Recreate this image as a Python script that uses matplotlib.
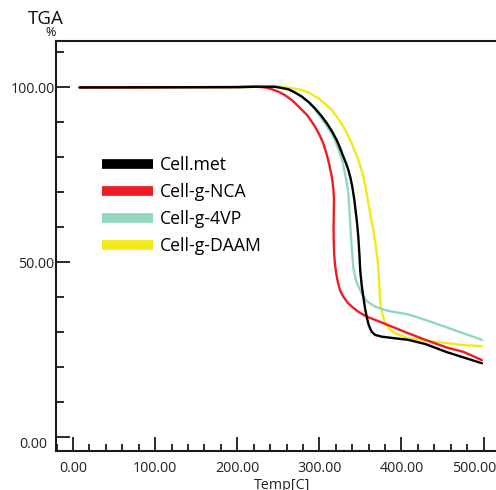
import matplotlib
matplotlib.use("Agg")
import matplotlib.pyplot as plt
from matplotlib.transforms import ScaledTranslation

plt.rcParams["font.family"] = ["Open Sans", "DejaVu Sans"]

# TGA curves (temperature in C, mass in %)
temp_met = [8, 200, 222, 246, 262, 270, 278.5, 287, 294.7, 302, 309, 315, 321, 325, 329.2, 332.5, 335.3,
            338, 340.1, 342.6, 344, 346, 347.5, 348.8, 349.8, 351.5, 353.5, 355.5, 357.6, 360, 363.7,
            368, 376, 390, 408, 429, 455, 475, 498]
tga_met = [100.0, 100.1, 100.2, 100.2, 99.5, 98.6, 97.4, 95.8, 94.0, 92.0, 89.8, 87.6, 85.0, 82.8, 80.2, 78.3, 76.4,
           74.0, 71.6, 67.8, 65.0, 61.0, 57.0, 52.0, 47.5, 43.5, 40.1, 37.0, 34.4, 32.1, 30.1,
           29.2, 28.7, 28.3, 27.8, 26.6, 24.3, 22.8, 21.1]

temp_nca = [8, 200, 225, 234, 242, 250, 258, 266.3, 274, 285.5, 294.7, 300, 304.8, 308.5, 311.7, 314, 315.8,
            317.2, 317.8, 317.6, 317.3, 317.5, 318, 319, 320.5, 322.5, 325, 329, 335, 341, 347, 358, 368,
            388, 408, 429, 455, 475, 498]
tga_nca = [100.0, 100.1, 100.2, 100.0, 99.5, 98.8, 97.8, 96.4, 94.7, 92.0, 88.8, 86.5, 84.0, 81.2, 78.3, 75.8, 73.5,
           70.5, 67.8, 64.0, 60.0, 56.0, 52.5, 49.5, 46.8, 44.3, 42.1, 40.2, 38.3, 37.0, 35.9, 34.4, 33.5,
           31.6, 29.7, 27.8, 25.6, 24.4, 22.0]

temp_4vp = [8, 200, 222, 246, 262, 270, 278.5, 287, 294.7, 302, 309, 315, 320, 325.1, 328.5, 331.2, 333.5,
            335.3, 336.7, 338, 339.5, 341.3, 343, 346, 351.6, 358, 368, 380, 388, 398, 408, 429, 450, 475, 498]
tga_4vp = [100.0, 100.1, 100.2, 100.2, 99.5, 98.6, 97.4, 95.8, 93.8, 91.3, 89.0, 86.9, 84.3, 81.2, 78.5, 75.4, 72.5,
           69.7, 64.5, 59.2, 54.0, 48.7, 46.3, 43.8, 41.1, 38.8, 37.3, 36.3, 35.9, 35.5, 35.1, 33.5, 31.8, 29.7, 27.8]

temp_daam = [8, 200, 230, 254, 266, 278.5, 289, 298.7, 307, 315, 322, 329.2, 334.5, 339.4, 343.5, 347.4,
             350.5, 353.5, 355.8, 357.6, 360, 362.5, 365.7, 368.5, 370.5, 371.8, 372.8, 373.7, 375, 377.5,
             380, 386, 392, 400, 408, 429, 450, 475, 498]
tga_daam = [100.0, 100.1, 100.2, 100.2, 99.8, 99.3, 98.3, 96.9, 95.3, 93.6, 91.4, 88.8, 86.5, 84.0, 81.6, 79.3,
            77.0, 74.5, 72.0, 69.7, 66.5, 63.0, 59.2, 55.0, 51.5, 48.5, 44.0, 40.0, 37.0, 34.5,
            32.5, 30.8, 29.7, 29.0, 28.2, 27.6, 27.0, 26.3, 26.0]

series_labels = ["Cell.met", "Cell-g-NCA", "Cell-g-4VP", "Cell-g-DAAM"]
series_colors = ["#000000", "#ee1c25", "#95d5c1", "#f4e81a"]

x_ticks = [0, 100, 200, 300, 400, 500]
y_ticks = [0, 50, 100]

fig = plt.figure(figsize=(4.96, 4.90), dpi=100)
ax = fig.add_axes([56 / 496, 39.5 / 490, 440 / 496, 409.2 / 490])

curves = [(temp_met, tga_met), (temp_nca, tga_nca), (temp_4vp, tga_4vp), (temp_daam, tga_daam)]
# draw order: yellow, teal, red, black on top
for idx in [3, 2, 1, 0]:
    t, m = curves[idx]
    ax.plot(t, m, color=series_colors[idx], lw=1.7, label=series_labels[idx],
            solid_capstyle="round", solid_joinstyle="round")

ax.set_xlim(-20.7, 515.1)
ax.set_ylim(-3.86, 113.2)

for side in ["left", "top", "bottom"]:
    ax.spines[side].set_linewidth(1.5)
    ax.spines[side].set_color("#1a1a1a")
ax.spines["right"].set_visible(False)

ax.set_xticks(x_ticks)
ax.set_xticklabels([f"{v:.2f}" for v in x_ticks])
ax.set_xticks(range(-20, 520, 20), minor=True)
ax.set_yticks(y_ticks)
ax.set_yticklabels([f"{v:.2f}" for v in y_ticks])
ax.set_yticks(range(0, 111, 10), minor=True)

ax.tick_params(axis="both", which="both", direction="in", colors="#1a1a1a", labelcolor="#222222",
               width=1.3, labelsize=10.3, top=False, right=False)
ax.tick_params(axis="y", which="major", length=10, pad=1)
ax.tick_params(axis="y", which="minor", length=6)
ax.tick_params(axis="x", which="major", length=10, pad=7.5)
ax.tick_params(axis="x", which="minor", length=5)

# nudge edge labels like the reference
xl = ax.get_xticklabels()
xl[-1].set_transform(xl[-1].get_transform() + ScaledTranslation(-9 / 100, 0, fig.dpi_scale_trans))
yl = ax.get_yticklabels()
yl[0].set_transform(yl[0].get_transform() + ScaledTranslation(-7 / 100, -5 / 100, fig.dpi_scale_trans))

handles, labels = ax.get_legend_handles_labels()
order = [labels.index(s) for s in series_labels]
leg = ax.legend([handles[i] for i in order], [labels[i] for i in order],
                loc="upper left", bbox_to_anchor=(101.7 / 496, 1 - 156 / 490),
                bbox_transform=fig.transFigure, frameon=False, fontsize=12.7,
                handlelength=2.9, handletextpad=0.38, labelspacing=0.51,
                borderpad=0, borderaxespad=0)
for line in leg.get_lines():
    line.set_linewidth(7)
    line.set_solid_capstyle("butt")

fig.text(45.5 / 496, 1 - 18.5 / 490, "TGA", ha="center", va="center", fontsize=13.5, color="#111111")
fig.text(51 / 496, 1 - 33 / 490, "%", ha="center", va="center", fontsize=9, color="#111111")
fig.text(282 / 496, 1 - 478 / 490, "Temp[C]", ha="center", va="top", fontsize=10.3, color="#222222")

fig.savefig("out.png", dpi=100)
